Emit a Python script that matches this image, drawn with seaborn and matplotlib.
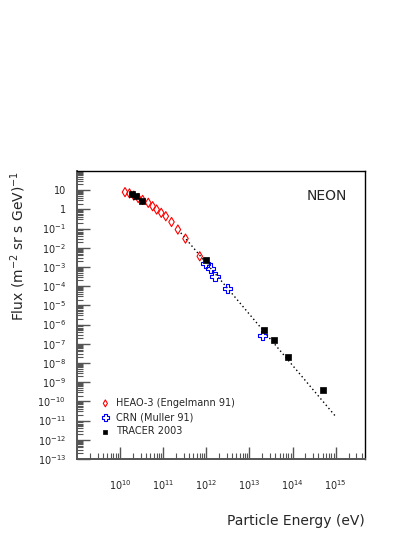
import matplotlib
matplotlib.use("Agg")
import matplotlib.pyplot as plt
import matplotlib.ticker as mticker
import numpy as np
import seaborn as sns

# HEAO-3 (Engelmann 91), energy in eV, flux in (m^2 sr s GeV)^-1
heao_energy = [1.30e10, 1.65e10, 2.08e10, 2.63e10, 3.33e10, 4.51e10, 5.69e10,
               7.05e10, 9.0e10, 1.15e11, 1.56e11, 2.19e11, 3.29e11, 7.05e11]
heao_flux = [7.9, 6.8, 5.2, 3.9, 3.1, 2.2, 1.46, 0.98, 0.66, 0.44, 0.22,
             0.089, 0.030, 0.0036]

# CRN (Muller 91)
crn_energy = [9.7e11, 1.23e12, 1.59e12, 3.07e12, 2.04e13]
crn_flux = [1.6e-3, 8.7e-4, 3.2e-4, 7.4e-5, 2.6e-7]

# TRACER 2003
tracer_energy = [1.86e10, 2.34e10, 3.17e10, 1.0e12, 2.15e13, 3.66e13,
                 7.87e13, 5.06e14]
tracer_flux = [6.5, 4.9, 2.9, 2.4e-3, 5.4e-7, 1.5e-7, 2.0e-8, 3.7e-10]

# power-law fit line (end points)
fit_energy = [2.56e11, 1.01e15]
fit_flux = [6.0e-2, 1.6e-11]

sns.set_style("white")
plt.rcParams['font.family'] = ['DejaVu Sans']

fig = plt.figure(figsize=(4.15, 5.37), dpi=100)
ax = fig.add_axes([0.1855, 0.1453, 0.694, 0.5363])

sns.lineplot(x=fit_energy, y=fit_flux, ax=ax, color="black",
             linestyle=(0, (1, 2)), linewidth=1.0, zorder=1)
sns.scatterplot(x=heao_energy, y=heao_flux, ax=ax, marker="d", s=22,
                facecolors="none", edgecolor="red", linewidth=0.8,
                label="HEAO-3 (Engelmann 91)", zorder=2)
sns.scatterplot(x=crn_energy, y=crn_flux, ax=ax, marker="P", s=45,
                facecolors="none", edgecolor="blue", linewidth=0.8,
                label="CRN (Muller 91)", zorder=3)
sns.scatterplot(x=tracer_energy, y=tracer_flux, ax=ax, marker="s", s=20,
                color="black", edgecolor="black", linewidth=0.5,
                label="TRACER 2003", zorder=4)

ax.set_xscale("log")
ax.set_yscale("log")
ax.set_xlim(1e9, 4.8e15)
ax.set_ylim(1e-13, 1e2)

# ticks
ax.xaxis.set_major_locator(mticker.FixedLocator([10.0 ** k for k in range(10, 16)]))
ax.xaxis.set_minor_locator(mticker.LogLocator(base=10, subs=np.arange(2, 10), numticks=30))
ax.yaxis.set_major_locator(mticker.FixedLocator([10.0 ** k for k in range(-13, 2)]))
ax.yaxis.set_minor_locator(mticker.LogLocator(base=10, subs=np.arange(2, 10), numticks=30))


def ylab(v, pos):
    k = int(round(np.log10(v)))
    if k == 1:
        return "10"
    if k == 0:
        return "1"
    return r"$10^{%d}$" % k


ax.yaxis.set_major_formatter(mticker.FuncFormatter(ylab))
ax.xaxis.set_major_formatter(mticker.FuncFormatter(lambda v, p: r"$10^{%d}$" % int(round(np.log10(v)))))
ax.yaxis.set_minor_formatter(mticker.NullFormatter())
ax.xaxis.set_minor_formatter(mticker.NullFormatter())
ax.xaxis.set_ticks_position("bottom")
ax.yaxis.set_ticks_position("left")

ax.tick_params(which="major", direction="in", length=9, width=1.0, color="#555555",
               labelsize=7)
ax.tick_params(which="minor", direction="in", length=4.5, width=0.8, color="#555555")
ax.tick_params(axis="x", which="major", pad=14)
ax.tick_params(axis="y", which="major", pad=8)

for side in ["left", "bottom"]:
    ax.spines[side].set_color("#555555")
    ax.spines[side].set_linewidth(1.4)
for side in ["top", "right"]:
    ax.spines[side].set_color("black")
    ax.spines[side].set_linewidth(1.0)

ax.set_xlabel("Particle Energy (eV)", fontsize=10, loc="right")
ax.xaxis.set_label_coords(1.0, -0.19)
ax.set_ylabel(r"Flux (m$^{-2}$ sr s GeV)$^{-1}$", fontsize=10, loc="top")
ax.yaxis.set_label_coords(-0.17, 1.0)

ax.text(0.868, 0.913, "NEON", transform=ax.transAxes, fontsize=10,
        ha="center", va="center")

ax.legend(loc="upper left", bbox_to_anchor=(0.085, 0.212), frameon=False,
          fontsize=7, handlelength=0.8, handletextpad=0.7, labelspacing=0.42,
          markerscale=0.75, borderpad=0, borderaxespad=0)

fig.savefig("out.png", dpi=100)
